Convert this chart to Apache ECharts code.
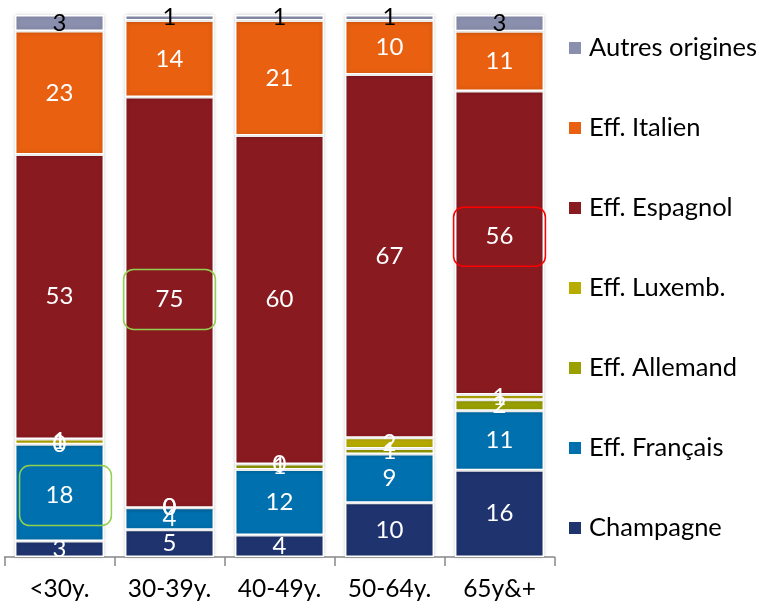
<!DOCTYPE html>
<html>
<head>
<meta charset="utf-8">
<script src="https://cdn.jsdelivr.net/npm/echarts@6/dist/echarts.min.js"></script>
<style>
  html, body { margin: 0; padding: 0; background: #fff; }
  #chart { width: 761px; height: 605px; }
</style>
</head>
<body>
<div id="chart"></div>
<script>
const categories = ["<30y.", "30-39y.", "40-49y.", "50-64y.", "65y&+"];
const champagne = [3, 5, 4, 10, 16];
const francais = [18, 4, 12, 9, 11];
const allemand = [0, 0, 1, 1, 2];
const luxemb = [1, 0, 0, 2, 1];
const espagnol = [53, 75, 60, 67, 56];
const italien = [23, 14, 21, 10, 11];
const autres = [3, 1, 1, 1, 3];

const seriesDefs = [
  { name: "Champagne", values: champagne, color: "#1f346f" },
  { name: "Eff. Français", values: francais, color: "#0070ae" },
  { name: "Eff. Allemand", values: allemand, color: "#99a000" },
  { name: "Eff. Luxemb.", values: luxemb, color: "#b8ac00" },
  { name: "Eff. Espagnol", values: espagnol, color: "#891a20" },
  { name: "Eff. Italien", values: italien, color: "#e86010" },
  { name: "Autres origines", values: autres, color: "#8a8fae" }
];

// column totals, bars are drawn as 100% stacks
const totals = categories.map((c, i) =>
  seriesDefs.reduce((s, d) => s + d.values[i], 0)
);

// highlighted boxes drawn around some labels
const boxes = {
  "Eff. Français": {
    0: { color: "#92d050", padding: [16, 38, 20, 26], offset: [6, 3] }
  },
  "Eff. Espagnol": {
    1: { color: "#92d050", padding: [18, 32, 18, 32], offset: [0, -3] },
    4: { color: "#ff0000", padding: [25, 32, 10, 32], offset: [0, -6] }
  }
};

const font = "Lato, 'Open Sans', sans-serif";

const series = seriesDefs.map((d) => ({
  name: d.name,
  type: "bar",
  stack: "total",
  barWidth: "81%",
  itemStyle: {
    color: d.color,
    borderColor: "#fff",
    borderWidth: 1.5,
    shadowBlur: 4,
    shadowColor: "rgba(0,0,0,0.18)"
  },
  label: {
    show: true,
    position: "inside",
    color: d.name === "Autres origines" ? "#000" : "#fff",
    fontFamily: font,
    fontSize: 24,
    lineHeight: 24,
    formatter: (p) => d.values[p.dataIndex]
  },
  data: d.values.map((v, i) => {
    const item = { value: (v / totals[i]) * 100 };
    const b = boxes[d.name] && boxes[d.name][i];
    if (b) {
      item.label = {
        borderColor: b.color,
        borderWidth: 1.5,
        borderRadius: 10,
        padding: b.padding,
        offset: b.offset
      };
    }
    return item;
  })
}));

const chart = echarts.init(document.getElementById("chart"));
chart.setOption({
  animation: false,
  grid: { left: 4.5, right: 206.5, top: 15, bottom: 48 },
  legend: {
    orient: "vertical",
    left: 567,
    top: 35,
    padding: 0,
    itemWidth: 14,
    itemHeight: 14,
    itemGap: 54,
    icon: "rect",
    data: seriesDefs.map((d) => d.name).reverse(),
    textStyle: {
      fontFamily: font,
      fontSize: 25.5,
      lineHeight: 24,
      color: "#000",
      padding: [0, 0, 0, 2]
    }
  },
  xAxis: {
    type: "category",
    data: categories,
    axisLine: { lineStyle: { color: "#888", width: 1.5 } },
    axisTick: { show: true, length: 9, lineStyle: { color: "#888", width: 1.5 } },
    axisLabel: {
      fontFamily: font,
      fontSize: 24.5,
      color: "#000",
      margin: 20
    }
  },
  yAxis: {
    type: "value",
    min: 0,
    max: 100,
    show: false
  },
  series: series
});
</script>
</body>
</html>
